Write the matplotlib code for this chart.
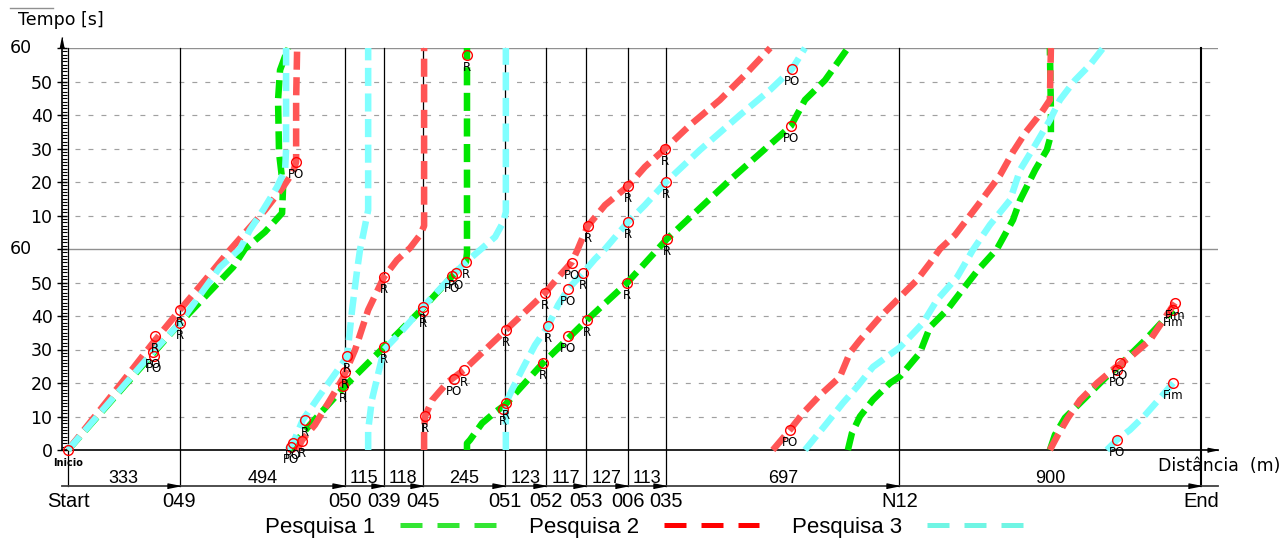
import numpy as np
import matplotlib
matplotlib.use("Agg")
import matplotlib.pyplot as plt
from matplotlib.lines import Line2D
from matplotlib.transforms import ScaledTranslation

# route: intersections and the distance (m) between consecutive ones
nodes = ["Start", "049", "050", "039", "045", "051", "052", "053", "006", "035", "N12", "End"]
seg_len = [333, 494, 115, 118, 245, 123, 117, 127, 113, 697, 900]

# trajectories (distance m, time s); the time axis wraps every 120 s,
# so each survey is stored as the pieces seen between two wraps
p1_dist = [
    [0, 334, 493, 528, 588, 639, 642, 630, 627, 633, 657],
    [660, 722, 827, 943, 1060, 1155, 1188, 1191, 1191],
    [1191, 1191, 1200, 1236, 1275, 1304, 1418, 1549, 1669, 1788, 1976, 2158, 2200, 2260, 2328],
    [2328, 2340, 2364, 2403, 2454, 2484, 2543, 2573, 2624, 2663, 2716, 2773, 2821, 2842, 2887, 2922,
     2934, 2934, 2931],
    [2931, 2946, 2976, 3036, 3096, 3140, 3215, 3299],
]
p1_time = [
    [0, 37.9, 54.6, 60, 65.1, 70.7, 78.5, 88.7, 104.5, 113.4, 120],
    [0, 7.5, 19.1, 30.7, 42.4, 52.8, 56.1, 58.8, 120],
    [0, 2, 3, 8, 11.3, 13.4, 26.0, 38.8, 49.9, 63.0, 80.6, 96.7, 104.5, 110.4, 120],
    [0, 5, 10, 15, 20, 22, 29, 36.7, 41.8, 46.9, 53.7, 60, 68.7, 74.6, 83.6, 89.6, 94, 101.5, 120],
    [0, 4.5, 9.6, 15.5, 21.5, 25.4, 32.8, 41.8],
]

p2_dist = [
    [0, 155, 260, 334, 409, 478, 528, 588, 642, 672, 681, 681, 684],
    [684, 699, 737, 782, 821, 857, 896, 943, 982, 1021, 1051, 1063, 1063],
    [1063, 1063, 1066, 1087, 1134, 1182, 1245, 1307, 1364, 1424, 1469, 1504, 1522, 1537, 1552, 1603,
     1672, 1722, 1782, 1857, 1946, 2021, 2096],
    [2104, 2155, 2194, 2245, 2304, 2334, 2364, 2424, 2484, 2534, 2573, 2603, 2648, 2716, 2782, 2821,
     2857, 2907, 2931, 2934],
    [2931, 2955, 2985, 3021, 3072, 3125, 3179, 3230, 3260, 3304],
]
p2_time = [
    [0, 19.4, 32.8, 41.8, 50.7, 59.1, 64.8, 71.6, 78.5, 83, 86, 104.5, 120],
    [0, 3, 7.5, 14.9, 21.5, 29.9, 41.8, 51.6, 56.7, 60.3, 64.2, 66.9, 120],
    [0, 6, 10.1, 14.9, 20.3, 23.9, 29.9, 35.8, 41.2, 46.9, 52.2, 56.1, 60, 63.6, 66.9, 73.1, 78.8,
     84.5, 89.9, 97, 104.5, 112, 120],
    [0, 6, 11, 16.4, 21.8, 29, 32.8, 39.7, 45.7, 50.7, 55.8, 60, 64.2, 73.1, 82, 89, 94.6, 100.9,
     104.5, 120],
    [0, 4.5, 9.6, 14.9, 20, 24.5, 28.4, 32.8, 37.3, 43.9],
]

p3_dist = [
    [0, 254, 334, 454, 513, 543, 582, 624, 648, 651, 651],
    [654, 672, 701, 752, 833, 848, 863, 872, 881, 896, 896],
    [896, 896, 907, 925, 943, 991, 1060, 1146, 1188, 1230, 1275, 1299, 1307, 1307],
    [1307, 1307, 1307, 1325, 1355, 1394, 1433, 1463, 1493, 1537, 1573, 1603, 1672, 1722, 1785, 1887,
     2006, 2096, 2161, 2200],
    [2200, 2266, 2313, 2355, 2403, 2484, 2552, 2594, 2654, 2701, 2752, 2812, 2842, 2887, 2931, 2961,
     3006, 3051, 3090],
    [3101, 3131, 3170, 3215, 3260, 3299],
]
p3_time = [
    [0, 29.3, 37.9, 54.6, 60, 65.7, 71.6, 78.5, 83.6, 89.6, 120],
    [0, 2.1, 9, 16.4, 27.8, 41.8, 53.7, 60, 64.2, 71.6, 120],
    [0, 6, 14.9, 22.4, 29.9, 34.9, 42.7, 51.9, 56.1, 59.7, 63.6, 68, 71, 120],
    [0, 6, 14, 17.9, 23.9, 31.3, 37, 43.3, 48.1, 52.8, 57, 60, 68.1, 73.1, 80, 89.6, 100, 107.5,
     113.7, 120],
    [0, 8.1, 14, 18.8, 24.8, 30.7, 37.9, 44.8, 51.6, 59.7, 67.2, 74.6, 83.6, 91, 98.5, 104.5, 110.4,
     115, 120],
    [0, 3, 6, 10.4, 15.5, 20],
]

# event points (R = red light, PO = other stop)
mark_d = [0, 260, 254, 257, 334, 334, 681, 672, 666, 699,
          707, 833, 827, 821, 943, 943, 1060, 1060, 1066, 1152,
          1182, 1146, 1158, 1188, 1191, 1307, 1307, 1299, 1424, 1433,
          1418, 1493, 1504, 1537, 1493, 1549, 1552, 1669, 1672, 1672,
          1782, 1785, 1788, 2161, 2158, 2155, 3140, 3131, 3304, 3299,
          3131, 3299]
mark_t = [0, 34, 29.3, 28.1, 41.8, 37.9, 86, 2.1, 0.9, 2.7,
          9, 28.1, 23.3, 19.1, 51.6, 30.7, 42.7, 41.5, 10.1, 21.2,
          23.9, 51.9, 52.8, 56.1, 117.9, 35.8, 14, 12.2, 46.9, 37,
          26, 48.1, 55.8, 52.8, 34, 38.8, 66.9, 49.9, 78.8, 68.1,
          89.9, 80, 63, 113.7, 96.7, 6, 26, 23.9, 43.9, 41.8,
          3, 20]
mark_lbl = ["Inicio", "R", "PO", "PO", "R", "R", "PO", "PO", "PO", "R",
            "R", "R", "R", "R", "R", "R", "R", "R", "R", "PO",
            "R", "PO", "PO", "R", "R", "R", "R", "R", "R", "R",
            "R", "PO", "PO", "R", "PO", "R", "R", "R", "R", "R",
            "R", "R", "R", "PO", "PO", "PO", "PO", "PO", "Fim", "Fim",
            "PO", "Fim"]

surveys = ["Pesquisa 1", "Pesquisa 2", "Pesquisa 3"]
line_colors = ["#00e600", "#ff5555", "#80ffff"]
legend_colors = ["#33e633", "#ff0000", "#70f5e4"]

W, H = 1281, 538
PX_M = 0.335  # pixels per metre
fig = plt.figure(figsize=(W / 100, H / 100), dpi=100)
ax = fig.add_axes([62 / W, 1 - 450 / H, (1218 - 62) / W, (450 - 48) / H])
x0 = -6 / PX_M
ax.set_xlim(x0, x0 + (1218 - 62) / PX_M)
ax.set_ylim(0, 120)

node_pos = np.concatenate([[0], np.cumsum(seg_len)])
t_row = -10.6

# grid
for t in [10, 20, 30, 40, 50, 70, 80, 90, 100, 110]:
    ax.axhline(t, color="#a0a0a0", lw=0.85, ls=(0, (4.2, 6.8)), zorder=1)
for t in [60, 120]:
    ax.axhline(t, color="#909090", lw=1.0, zorder=1)
for i, d in enumerate(node_pos):
    ax.plot([d, d], [t_row, 120], color="black", lw=1.5 if i == len(node_pos) - 1 else 0.9,
            clip_on=False, zorder=1.5)

# spines / axes
for s in ["top", "right"]:
    ax.spines[s].set_visible(False)
ax.spines["bottom"].set_linewidth(1.2)
ax.spines["left"].set_linewidth(1.2)
ax.set_xticks([])
ax.set_yticks(np.arange(0, 121, 10))
ax.set_yticks(np.arange(0, 121, 1), minor=True)
ax.set_yticklabels(["" if v in (60, 120) else str(v if v <= 60 else v - 60)
                    for v in range(0, 121, 10)])
ax.tick_params(axis="y", which="minor", direction="in", length=3.5, width=0.8)
ax.tick_params(axis="y", which="major", direction="inout", length=6.5, width=1.0,
               labelsize=12.5, pad=3.5)
for t in [60, 120]:
    ax.text((32 - 62) / (1218 - 62), t, "60", transform=ax.get_yaxis_transform(),
            ha="right", va="center", fontsize=12.5)

# arrow heads (custom marker with its tip on the point)
tip_right = [(0, 0), (-1, 0.2), (-1, -0.2)]
tip_up = [(0, 0), (-0.2, -1), (0.2, -1)]
ax.plot([1], [0], marker=tip_right, ms=15, color="black", transform=ax.transAxes, clip_on=False)
ax.plot([0], [1], marker=tip_up, ms=15, color="black", clip_on=False,
        transform=ax.transAxes + ScaledTranslation(0, 11 / 100, fig.dpi_scale_trans))

# distance row
ax.plot(ax.get_xlim(), [t_row, t_row], color="#404040", lw=1.3, clip_on=False)
ax.plot(node_pos[1:], [t_row] * (len(node_pos) - 1), ls="none", marker=tip_right, ms=18,
        color="black", clip_on=False)
for d, name in zip(node_pos, nodes):
    ax.text(d, -17.0, name, ha="center", va="baseline", fontsize=14.5,
            family="Liberation Sans", clip_on=False)
for a, b, L in zip(node_pos[:-1], node_pos[1:], seg_len):
    ax.text((a + b) / 2, -9.85, str(L), ha="center", va="baseline", fontsize=13,
            family="Liberation Sans", clip_on=False)

# trajectories
for dists, times, col in zip([p1_dist, p2_dist, p3_dist], [p1_time, p2_time, p3_time], line_colors):
    for d, t in zip(dists, times):
        ax.plot(d, t, color=col, lw=4.7, ls=(0, (2.77, 1.15)), solid_capstyle="butt",
                dash_capstyle="butt", zorder=3, clip_on=False)

# events
ax.plot(mark_d, mark_t, ls="none", marker="o", ms=7, mfc="none", mec="red", mew=1,
        zorder=5, clip_on=False)
for d, t, lbl in zip(mark_d, mark_t, mark_lbl):
    if lbl == "Inicio":
        ax.annotate(lbl, (d, t), xytext=(0, -9.5), textcoords="offset points", ha="center",
                    va="center", fontsize=7, fontweight="bold", zorder=6)
    else:
        ax.annotate(lbl, (d, t), xytext=(0, -9), textcoords="offset points", ha="center",
                    va="center", fontsize=8.5, zorder=6)

# axis titles
fig.text(18 / W, 1 - 25 / H, "Tempo [s]", fontsize=12.5, va="baseline")
fig.add_artist(Line2D([10 / W, 53 / W], [1 - 8 / H, 1 - 8 / H], color="#909090", lw=1))
fig.text(1158 / W, 1 - 471 / H, "Distância  (m)", fontsize=12.5, va="baseline")

# legend
handles = [Line2D([], [], color=c, lw=3.6, dashes=(4.4, 3.0), dash_capstyle="butt")
           for c in legend_colors]
fig.legend(handles, surveys, loc="center", bbox_to_anchor=(644 / W, 1 - 527 / H), ncol=3,
           frameon=False, markerfirst=False, handlelength=4.3, handletextpad=1.1,
           columnspacing=1.5, borderpad=0, prop={"family": "Liberation Sans", "size": 16})

fig.savefig("out.png", dpi=100)
